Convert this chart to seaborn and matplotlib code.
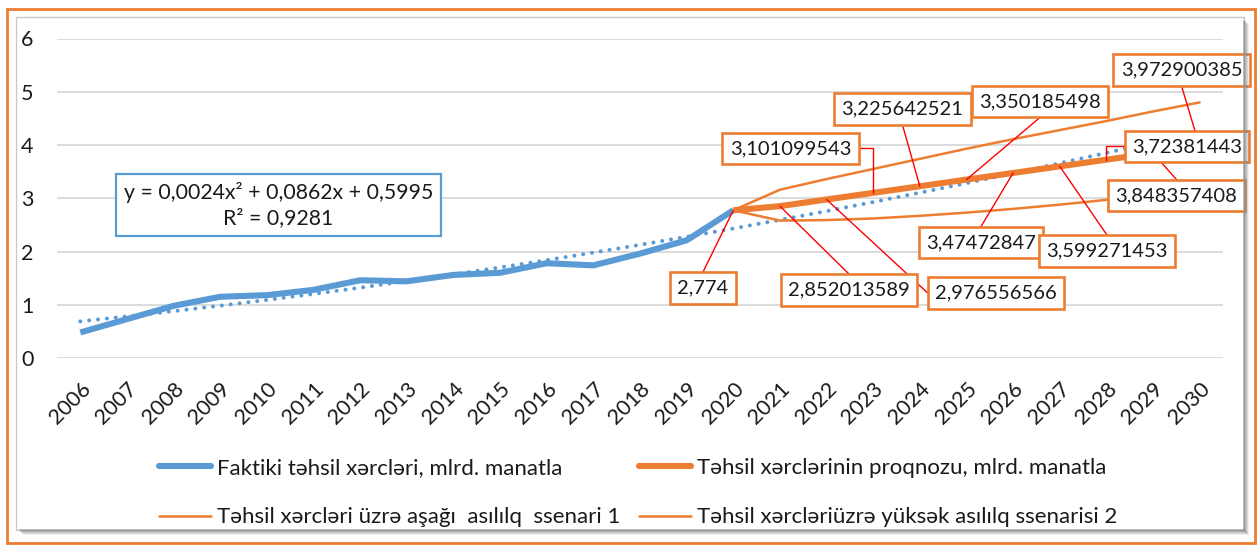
import numpy as np
import pandas as pd
import matplotlib
matplotlib.use("Agg")
import matplotlib.pyplot as plt
import matplotlib.transforms as mtransforms
from matplotlib.patches import Rectangle
from matplotlib.lines import Line2D
import seaborn as sns

# ---------------- data ----------------
years = list(range(2006, 2031))
actual_years = list(range(2006, 2021))
actual = [0.48, 0.73, 0.98, 1.15, 1.18, 1.28, 1.46, 1.44, 1.56, 1.60,
          1.78, 1.74, 1.96, 2.21, 2.774]
forecast_years = list(range(2020, 2031))
forecast = [2.774, 2.852013589, 2.976556566, 3.101099543, 3.225642521,
            3.350185498, 3.47472847, 3.599271453, 3.72381443, 3.848357408,
            3.972900385]
scenario_low = [2.774, 2.58, 2.59, 2.62, 2.67, 2.73, 2.80, 2.88, 2.97, 3.06, 3.15]
scenario_high = [2.774, 3.16, 3.36, 3.55, 3.74, 3.93, 4.11, 4.28, 4.45, 4.63, 4.80]
trend_coef = [0.0024, 0.0862, 0.5995]          # as displayed on the chart
trend_eq = "y = 0,0024x\u00b2 + 0,0862x + 0,5995"
trend_r2 = "R\u00b2 = 0,9281"
y_ticks = [0, 1, 2, 3, 4, 5, 6]
legend_labels = ["Faktiki təhsil xərcləri, mlrd. manatla",
                 "Təhsil xərcləri üzrə aşağı  asılılq  ssenari 1",
                 "Təhsil xərclərinin proqnozu, mlrd. manatla",
                 "Təhsil xərcləriüzrə yüksək asılılq ssenarisi 2"]

# ---------------- style ----------------
BLUE = "#5B9BD5"
ORANGE = "#ED7D31"
TXT = "#1A1A1A"
sns.set_theme(style="white")
plt.rcParams["font.family"] = ["Lato", "DejaVu Sans"]
FS_TICK = 15.5
FS_LEG = 16
FS_EQ = 15.3
FS_LAB = 14.5

W, H = 1260, 545
fig = plt.figure(figsize=(W / 100, H / 100), dpi=100)
fig.patch.set_facecolor("white")
pix = mtransforms.Affine2D().scale(1 / W, -1 / H).translate(0, 1) + fig.transFigure

L, R, B, T = 57, 1223, 358, 38.5
ax = fig.add_axes([L / W, 1 - B / H, (R - L) / W, (B - T) / H])
ax.set_facecolor("none")

# ---------------- series ----------------
trend_x = np.arange(1, len(years) + 1)
trend_vals = np.polyval(trend_coef, trend_x)
sns.lineplot(x=years, y=trend_vals, ax=ax, color=BLUE, lw=2.9,
             linestyle=(0, (0.01, 2.2)), dash_capstyle="round", zorder=3)
sns.lineplot(x=forecast_years, y=scenario_low, ax=ax, color=ORANGE, lw=1.8, zorder=3)
sns.lineplot(x=forecast_years, y=scenario_high, ax=ax, color=ORANGE, lw=1.8, zorder=3)
sns.lineplot(x=actual_years, y=actual, ax=ax, color=BLUE, lw=4.4,
             solid_capstyle="butt", zorder=4)
sns.lineplot(x=forecast_years, y=forecast, ax=ax, color=ORANGE, lw=4.4,
             solid_capstyle="butt", zorder=4)

ax.set_xlim(years[0] - 0.5, years[-1] + 0.5)
ax.set_ylim(0, 6)
ax.set_yticks(y_ticks)
ax.set_yticklabels([str(v) for v in y_ticks])
ax.set_xticks(years)
ax.set_xticklabels([str(y) for y in years], rotation=45, ha="right",
                   va="top", rotation_mode="anchor")
ax.tick_params(axis="both", length=0, labelsize=FS_TICK, labelcolor=TXT)
ax.tick_params(axis="y", pad=17)
ax.tick_params(axis="x", pad=15)
ax.grid(axis="y", color="#D9D9D9", lw=1.3)
ax.grid(axis="x", visible=False)
for s in ax.spines.values():
    s.set_visible(False)
ax.set_xlabel("")
ax.set_ylabel("")

# ---------------- trend equation ----------------
ax.text(278.5, 205, trend_eq + "\n" + trend_r2, transform=pix, ha="center",
        va="center", fontsize=FS_EQ, color=TXT, linespacing=1.3, zorder=8,
        bbox=dict(boxstyle="square,pad=0.38", fc="white", ec=BLUE, lw=1.6))

# ---------------- data labels ----------------
label_layout = [
    (703, 288, "top", False),
    (849, 290, "top", False),
    (996, 293, "left", False),
    (790.5, 148.5, "right", True),
    (902.5, 109, "bottom", False),
    (1040, 101.5, "bottom", False),
    (981, 242.5, "top", False),
    (1107, 251, "top", False),
    (1187, 146.5, "left", True),
    (1176.5, 195.5, "top", False),
    (1181.5, 70, "bottom", False),
]
texts = []
for i, (yr, v) in enumerate(zip(forecast_years, forecast)):
    cx, cy, side, elbow = label_layout[i]
    t = ax.text(cx, cy, str(v).replace(".", ","), transform=pix, ha="center",
                va="center", fontsize=FS_LAB, color=TXT, zorder=10 + i, clip_on=False,
                bbox=dict(boxstyle="square,pad=0.37", fc="white", ec=ORANGE, lw=1.9))
    texts.append(t)

fig.canvas.draw()
renderer = fig.canvas.get_renderer()
inv = ax.transData.inverted()
for i, (yr, v) in enumerate(zip(forecast_years, forecast)):
    cx, cy, side, elbow = label_layout[i]
    bb = texts[i].get_bbox_patch().get_window_extent(renderer)
    mx, my = (bb.x0 + bb.x1) / 2, (bb.y0 + bb.y1) / 2
    start = {"top": (mx, bb.y1), "bottom": (mx, bb.y0),
             "left": (bb.x0, my), "right": (bb.x1, my)}[side]
    end = ax.transData.transform((yr, v))
    pts = [start]
    if elbow:
        pts.append((end[0], start[1]))
    pts.append(tuple(end))
    dpts = inv.transform(np.array(pts))
    ax.plot(dpts[:, 0], dpts[:, 1], color="#FF0000", lw=1.0, zorder=9,
            clip_on=False)

# ---------------- legend ----------------
h_blue = Line2D([], [], color=BLUE, lw=4.4, solid_capstyle="round")
h_thin = Line2D([], [], color=ORANGE, lw=1.8)
h_thick = Line2D([], [], color=ORANGE, lw=4.4, solid_capstyle="round")
common = dict(loc="upper left", frameon=False, fontsize=FS_LEG, borderpad=0,
              borderaxespad=0, handlelength=2.35, handletextpad=0.27,
              labelspacing=1.32, labelcolor=TXT)
leg1 = fig.legend([h_blue, h_thin], legend_labels[:2],
                  bbox_to_anchor=(159, 458), bbox_transform=pix, **common)
leg2 = fig.legend([h_thick, h_thin], legend_labels[2:],
                  bbox_to_anchor=(639, 458), bbox_transform=pix, **common)

# ---------------- chart frame ----------------
fig.add_artist(Rectangle((7, 9), 1248, 534, transform=pix, fill=False,
                         ec=ORANGE, lw=2.0))
fig.add_artist(Rectangle((16, 17), 1228, 513, transform=pix, fill=False,
                         ec="#C9C9C9", lw=1.0))
for k, a in enumerate([0.55, 0.45, 0.35, 0.25, 0.15]):
    fig.add_artist(Line2D([1244 + k, 1244 + k], [21 + k, 530 + k],
                          transform=pix, color="#7F7F7F", alpha=a, lw=1.2))
    fig.add_artist(Line2D([20 + k, 1244 + k], [530 + k, 530 + k],
                          transform=pix, color="#7F7F7F", alpha=a, lw=1.2))

fig.savefig("out.png", dpi=100, facecolor="white")
